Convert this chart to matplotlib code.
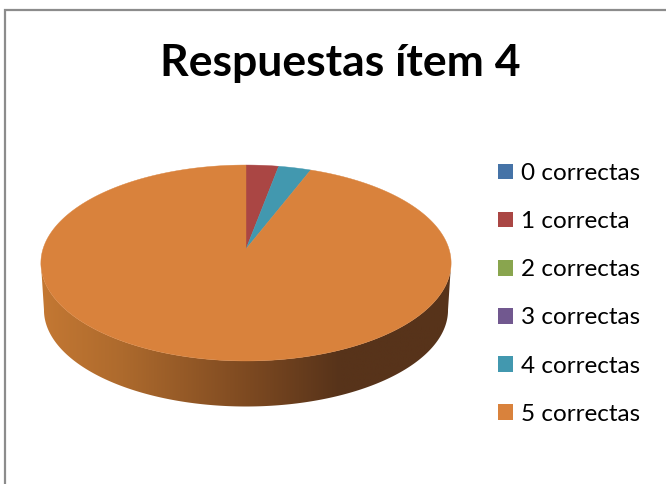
import numpy as np
import matplotlib
matplotlib.use('Agg')
import matplotlib.pyplot as plt
from matplotlib.colors import LinearSegmentedColormap
from matplotlib.patches import Patch, Polygon

plt.rcParams['font.family'] = ['Lato', 'DejaVu Sans']

# answers per category
labels = ['0 correctas', '1 correcta', '2 correctas', '3 correctas', '4 correctas', '5 correctas']
values = [0, 1, 0, 0, 1, 32]
colors = ['#4573A7', '#AA4644', '#89A54E', '#71588F', '#4298AF', '#D9823C']
title = 'Respuestas ítem 4'

# pie position in pixels, perspective terms and height of the side wall
CX, CY = 246, 249
RX = 203
TILT, PERSP = -60.4, 1 / 7
MID_Y = 263
DEPTH = 47


def project(theta, scale=1.0, drop=0):
    # theta is clockwise from 12 o'clock, on the tilted disc
    u, v = np.sin(theta), np.cos(theta)
    den = 1 + PERSP * v
    x = CX + scale * RX * u / den
    y = (TILT * v + CY) / den
    return x, MID_Y + scale * (y - MID_Y) + drop


fig = plt.figure(figsize=(6.66, 4.84), dpi=100)
ax = fig.add_axes([0, 0, 1, 1])
ax.axis('off')

# outer frame, only top and left show
ax.plot([5, 5, 666], [484, 10, 10], color='#8c8c8c', lw=1.6, solid_joinstyle='miter')

# side wall: lower half between the top disc and the dropped one
t = np.linspace(0, 2 * np.pi, 721)
xt, yt = project(t)
xb, yb = project(t, scale=0.985, drop=DEPTH)
left, right = np.argmin(xt), np.argmax(xt)
front = np.arange(right, left + 1)
wall = np.column_stack([np.r_[xt[front], xb[front][::-1]], np.r_[yt[front], yb[front][::-1]]])

shade = LinearSegmentedColormap.from_list('wall', [
    (0.00, '#c47833'), (0.20, '#ad6a2d'), (0.50, '#7e4a21'), (0.73, '#57331a'), (1.00, '#57331a')])
grad = ax.imshow(np.linspace(0, 1, 256).reshape(1, -1), cmap=shade, aspect='auto',
                 extent=[40, 451, 420, 240], zorder=1)
wall_patch = Polygon(wall, closed=True, facecolor='none', edgecolor='none')
ax.add_patch(wall_patch)
grad.set_clip_path(wall_patch)
ax.set_xlim(0, 666)
ax.set_ylim(484, 0)

# wedges on the top face, clockwise from 12 o'clock
edges = np.r_[0, np.cumsum(values)] / sum(values) * 2 * np.pi
for start, stop, col in zip(edges[:-1], edges[1:], colors):
    if stop == start:
        continue
    a = np.linspace(start, stop, 400)
    xs, ys = project(a)
    ax.add_patch(Polygon(np.column_stack([np.r_[CX, xs], np.r_[CY, ys]]), closed=True,
                         facecolor=col, edgecolor=col, lw=0.3, zorder=2))

ax.text(340, 63, title, ha='center', va='center', fontsize=32, fontweight='bold', color='black')

handles = [Patch(facecolor=c, edgecolor='none', label=l) for c, l in zip(colors, labels)]
ax.legend(handles=handles, loc='upper left', bbox_to_anchor=(498 / 666, 1 - 163 / 484),
          frameon=False, fontsize=17.5, handlelength=0.62, handleheight=0.62,
          handletextpad=0.33, labelspacing=1.117, borderpad=0, borderaxespad=0)

fig.savefig('out.png', dpi=100)
